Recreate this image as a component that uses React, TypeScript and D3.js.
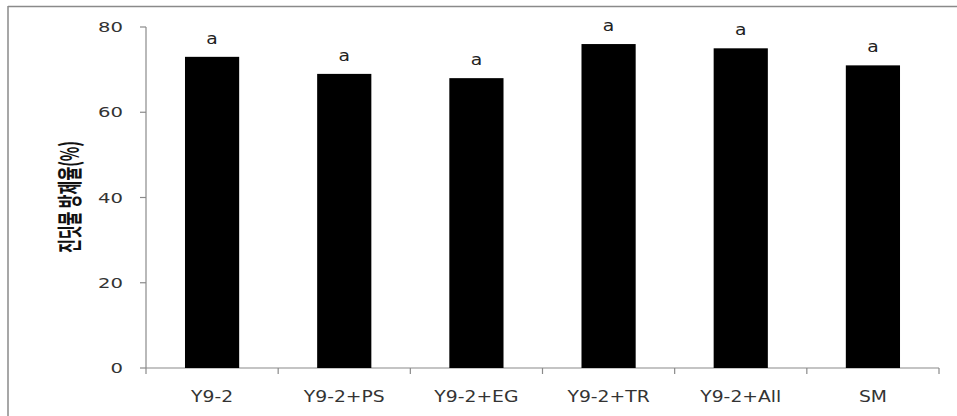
import React from "react";
import * as d3 from "d3";

const categories = ["Y9-2", "Y9-2+PS", "Y9-2+EG", "Y9-2+TR", "Y9-2+All", "SM"];
const values = [73, 69, 68, 76, 75, 71];
const letters = ["a", "a", "a", "a", "a", "a"];
const yTicks = [0, 20, 40, 60, 80];

const W = 957;
const H = 416;
const margin = { left: 146, right: 18, top: 27, bottom: 48 };

export default function App() {
  const x = d3
    .scaleBand<string>()
    .domain(categories)
    .range([margin.left, W - margin.right])
    .paddingInner(0.59)
    .paddingOuter(0.295);
  const y = d3.scaleLinear().domain([0, 80]).range([H - margin.bottom, margin.top]);
  const step = x.step();
  const x0 = margin.left;
  const font = "'DejaVu Sans', Verdana, sans-serif";
  const axisColor = "#8a8a8a";

  return (
    <svg
      width={W}
      height={H}
      style={{ position: "absolute", left: 0, top: 0, background: "#fff" }}
    >
      {/* frame */}
      <line x1={8} y1={6.5} x2={W} y2={6.5} stroke="#8a8a8a" strokeWidth={1.5} />
      <line x1={8} y1={6} x2={8} y2={H} stroke="#8a8a8a" strokeWidth={1.5} />

      {/* y axis */}
      <line x1={x0} y1={y(80)} x2={x0} y2={y(0)} stroke={axisColor} strokeWidth={1.2} />
      {yTicks.map((t) => (
        <g key={t}>
          <line x1={x0 - 6} x2={x0} y1={y(t)} y2={y(t)} stroke={axisColor} strokeWidth={1.2} />
          <text
            transform={`translate(${x0 - 23}, ${y(t)}) scale(1.4, 1)`}
            dy="0.36em"
            textAnchor="end"
            fontFamily={font}
            fontSize={14}
            fill="#333"
          >
            {t}
          </text>
        </g>
      ))}

      {/* x axis */}
      <line
        x1={x0}
        y1={y(0)}
        x2={W - margin.right}
        y2={y(0)}
        stroke={axisColor}
        strokeWidth={1.2}
      />
      {d3.range(categories.length + 1).map((i) => (
        <line
          key={i}
          x1={x0 + i * step}
          x2={x0 + i * step}
          y1={y(0)}
          y2={y(0) + 6}
          stroke={axisColor}
          strokeWidth={1.2}
        />
      ))}

      {/* bars */}
      {categories.map((c, i) => (
        <g key={c}>
          <rect
            x={x(c)}
            y={y(values[i])}
            width={x.bandwidth()}
            height={y(0) - y(values[i])}
            fill="#000"
          />
          <text
            transform={`translate(${(x(c) as number) + x.bandwidth() / 2}, ${
              y(values[i]) - 13
            }) scale(1.25, 1)`}
            textAnchor="middle"
            fontFamily={font}
            fontSize={15}
            fill="#222"
          >
            {letters[i]}
          </text>
          <text
            transform={`translate(${x0 + (i + 0.5) * step}, ${y(0) + 34}) scale(1.25, 1)`}
            textAnchor="middle"
            fontFamily={font}
            fontSize={15}
            fill="#333"
          >
            {c}
          </text>
        </g>
      ))}

      {/* y axis title */}
      <text
        transform={`translate(79, 197) scale(1.7, 1) rotate(-90)`}
        textAnchor="middle"
        fontFamily="'Noto Sans CJK KR', sans-serif"
        fontWeight="bold"
        fontSize={15}
        fill="#111"
      >
        진딧물 방제율(%)
      </text>
    </svg>
  );
}
